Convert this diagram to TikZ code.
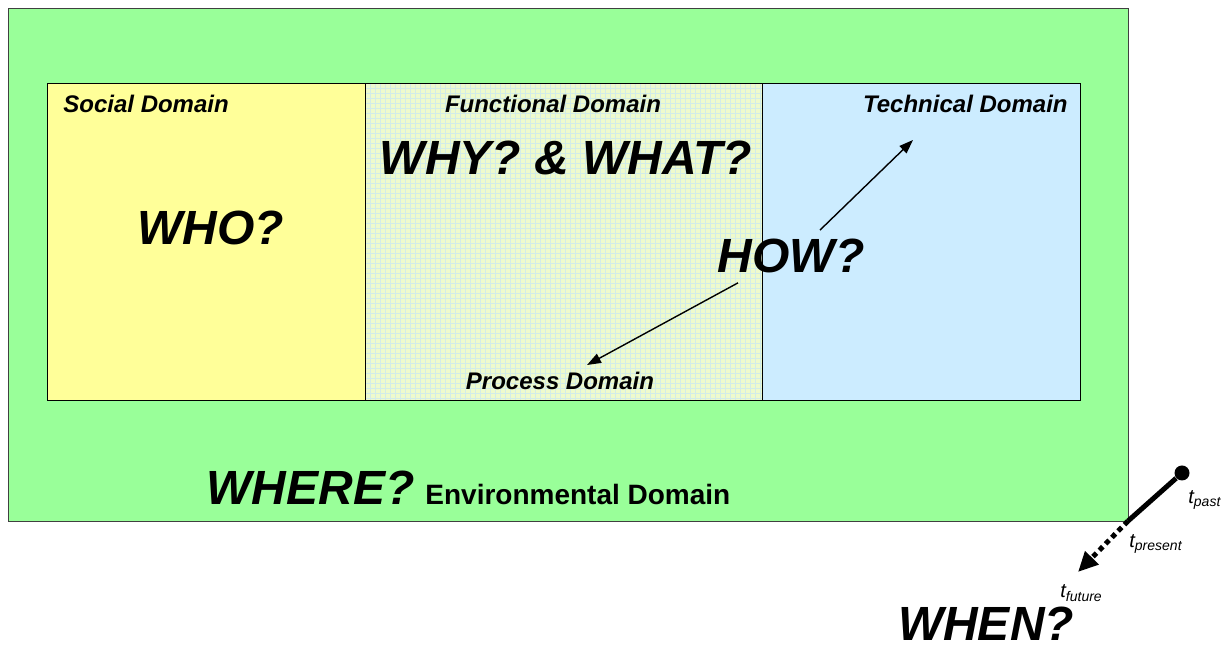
\documentclass[tikz,border=0pt]{standalone}
\usepackage{fontspec}
\setmainfont{Liberation Sans}
\usetikzlibrary{arrows.meta}

\definecolor{envgreen}{RGB}{153,255,153}
\definecolor{socyellow}{RGB}{255,255,153}
\definecolor{funcyellow}{RGB}{238,250,204}
\definecolor{gridblue}{RGB}{210,236,232}
\definecolor{techblue}{RGB}{204,236,255}

\tikzset{
  domainlabel/.style={font=\bfseries\itshape\fontsize{12}{14}\selectfont, inner sep=0pt},
  question/.style={font=\bfseries\itshape\fontsize{24}{28}\selectfont, inner sep=2.5pt},
  tlabel/.style={font=\itshape\fontsize{10}{12}\selectfont, inner sep=0pt},
  pointer/.style={line width=0.7pt, -{Triangle[length=7pt,width=5pt]}},
  gridline/.style={gridblue, line width=0.4pt}
}

\begin{document}
\begin{tikzpicture}[x=0.5pt,y=-0.5pt]
        \useasboundingbox (0,0) rectangle (1223,651);
        % domains
        \draw[fill=envgreen, draw=black!75] (8,8) rectangle (1128,521);
        \draw[fill=socyellow] (47,83) rectangle (365,400);
        \fill[funcyellow] (365,83) rectangle (762,400);
        \foreach \gx in {370,375,...,760}
            \draw[gridline] (\gx,83) -- (\gx,400);
        \foreach \gy in {88,93,...,398}
            \draw[gridline] (365,\gy) -- (762,\gy);
        \draw (365,83) rectangle (762,400);
        \draw[fill=techblue] (762,83) rectangle (1080,400);
        \node[domainlabel, anchor=base west] (social) at (63,113) {Social Domain};
        \node[domainlabel, anchor=base] (functional) at (553,113) {Functional Domain};
        \node[domainlabel, anchor=base east] (technical) at (1068,113) {Technical Domain};
        \node[domainlabel, anchor=base] (process) at (560,390) {Process Domain};
        \node[question, anchor=base] (whywhat) at (566,175) {WHY? \& WHAT?};
        \node[question, anchor=base] (who) at (211,245) {WHO?};
        \node[question, anchor=base] (how) at (791,273) {HOW?};
        \node[question, anchor=base west] (where) at (201,505) {WHERE?};
        \node[font=\bfseries\fontsize{14}{16}\selectfont, inner sep=0pt, anchor=base west] (environmental) at (425,505) {Environmental Domain};
        \node[question, inner sep=0pt, anchor=base] (when) at (986,641) {WHEN?};
        % how arrows
        \coordinate (techtip) at (913,140);
        \coordinate (proctip) at (587,365);
        \draw[pointer] ([xshift=14.5pt,yshift=2pt]how.north) -- (techtip);
        \draw[pointer] ([xshift=-26.5pt,yshift=-2pt]how.south) -- (proctip);
        % time line
        \node[circle, fill, inner sep=0pt, minimum size=7.5pt] (past) at (1182,473) {};
        \coordinate (present) at (1128,521);
        \coordinate (future) at (1078,572);
        \draw[line width=2.5pt] (past) -- (present);
        \draw[line width=2.5pt, dash pattern=on 2.5pt off 2pt, -{Triangle[length=10pt,width=9pt]}] (present) -- (future);
        \node[tlabel, anchor=base west] (tpast) at (1188,504) {t\textsubscript{past}};
        \node[tlabel, anchor=base west] (tpresent) at (1129,548) {t\textsubscript{present}};
        \node[tlabel, anchor=base west] (tfuture) at (1060,598) {t\textsubscript{future}};
\end{tikzpicture}
\end{document}
